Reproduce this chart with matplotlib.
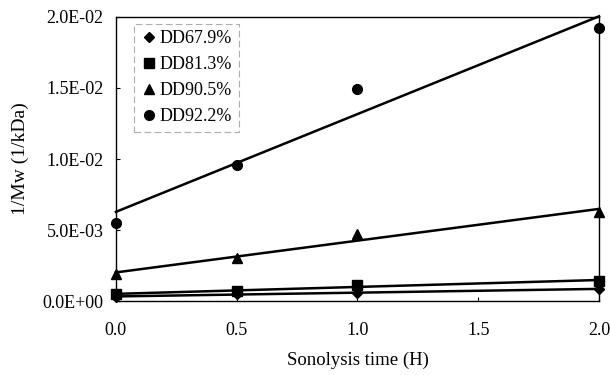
import numpy as np
import matplotlib
matplotlib.use("Agg")
import matplotlib.pyplot as plt

plt.rcParams['font.family'] = ['Liberation Serif', 'DejaVu Serif']

time_h = [0.0, 0.5, 1.0, 2.0]
labels = ["DD67.9%", "DD81.3%", "DD90.5%", "DD92.2%"]
dd679 = [0.00030, 0.00050, 0.00060, 0.00085]
dd813 = [0.00050, 0.00070, 0.00110, 0.00145]
dd905 = [0.00190, 0.00300, 0.00470, 0.00630]
dd922 = [0.00550, 0.00960, 0.01490, 0.01920]
series = [dd679, dd813, dd905, dd922]
markers = ["D", "s", "^", "o"]
msizes = [5, 7, 7, 7]

fig = plt.figure(figsize=(6.1, 3.75), dpi=100)
ax = fig.add_axes([0.190, 0.197, 0.792, 0.758])

x = np.array(time_h)
for ys, lab, m, ms in zip(series, labels, markers, msizes):
    ax.plot(x, ys, linestyle='none', marker=m, markersize=ms, color='black', label=lab, clip_on=False, zorder=3)
    k, b = np.polyfit(x, ys, 1)
    xx = np.array([0.0, 2.0])
    ax.plot(xx, k * xx + b, color='black', linewidth=1.8, clip_on=False, zorder=2)

ax.set_xlim(0, 2.0)
ax.set_ylim(0, 0.02)
ax.set_xticks([0.0, 0.5, 1.0, 1.5, 2.0])
ax.set_xticklabels(["0.0", "0.5", "1.0", "1.5", "2.0"])
ax.set_yticks([0.0, 0.005, 0.01, 0.015, 0.02])
ax.set_yticklabels(["0.0E+00", "5.0E-03", "1.0E-02", "1.5E-02", "2.0E-02"])
ax.tick_params(axis='both', direction='in', length=3, labelsize=13)
ax.tick_params(axis='y', pad=9)
ax.tick_params(axis='x', pad=15)
for s in ax.spines.values():
    s.set_linewidth(1.0)

ax.set_xlabel("Sonolysis time (H)", fontsize=13.5, labelpad=9)
ax.set_ylabel("1/Mw (1/kDa)", fontsize=14, labelpad=10)

leg = ax.legend(loc='upper left', bbox_to_anchor=(0.037, 0.975), fontsize=13,
                frameon=True, fancybox=False, handletextpad=0.1, handlelength=1.0,
                labelspacing=0.5, borderpad=0.35, borderaxespad=0)
leg.get_frame().set_edgecolor('#999999')
leg.get_frame().set_linestyle((0, (6, 3)))
leg.get_frame().set_linewidth(0.8)

fig.savefig("out.png", dpi=100)
